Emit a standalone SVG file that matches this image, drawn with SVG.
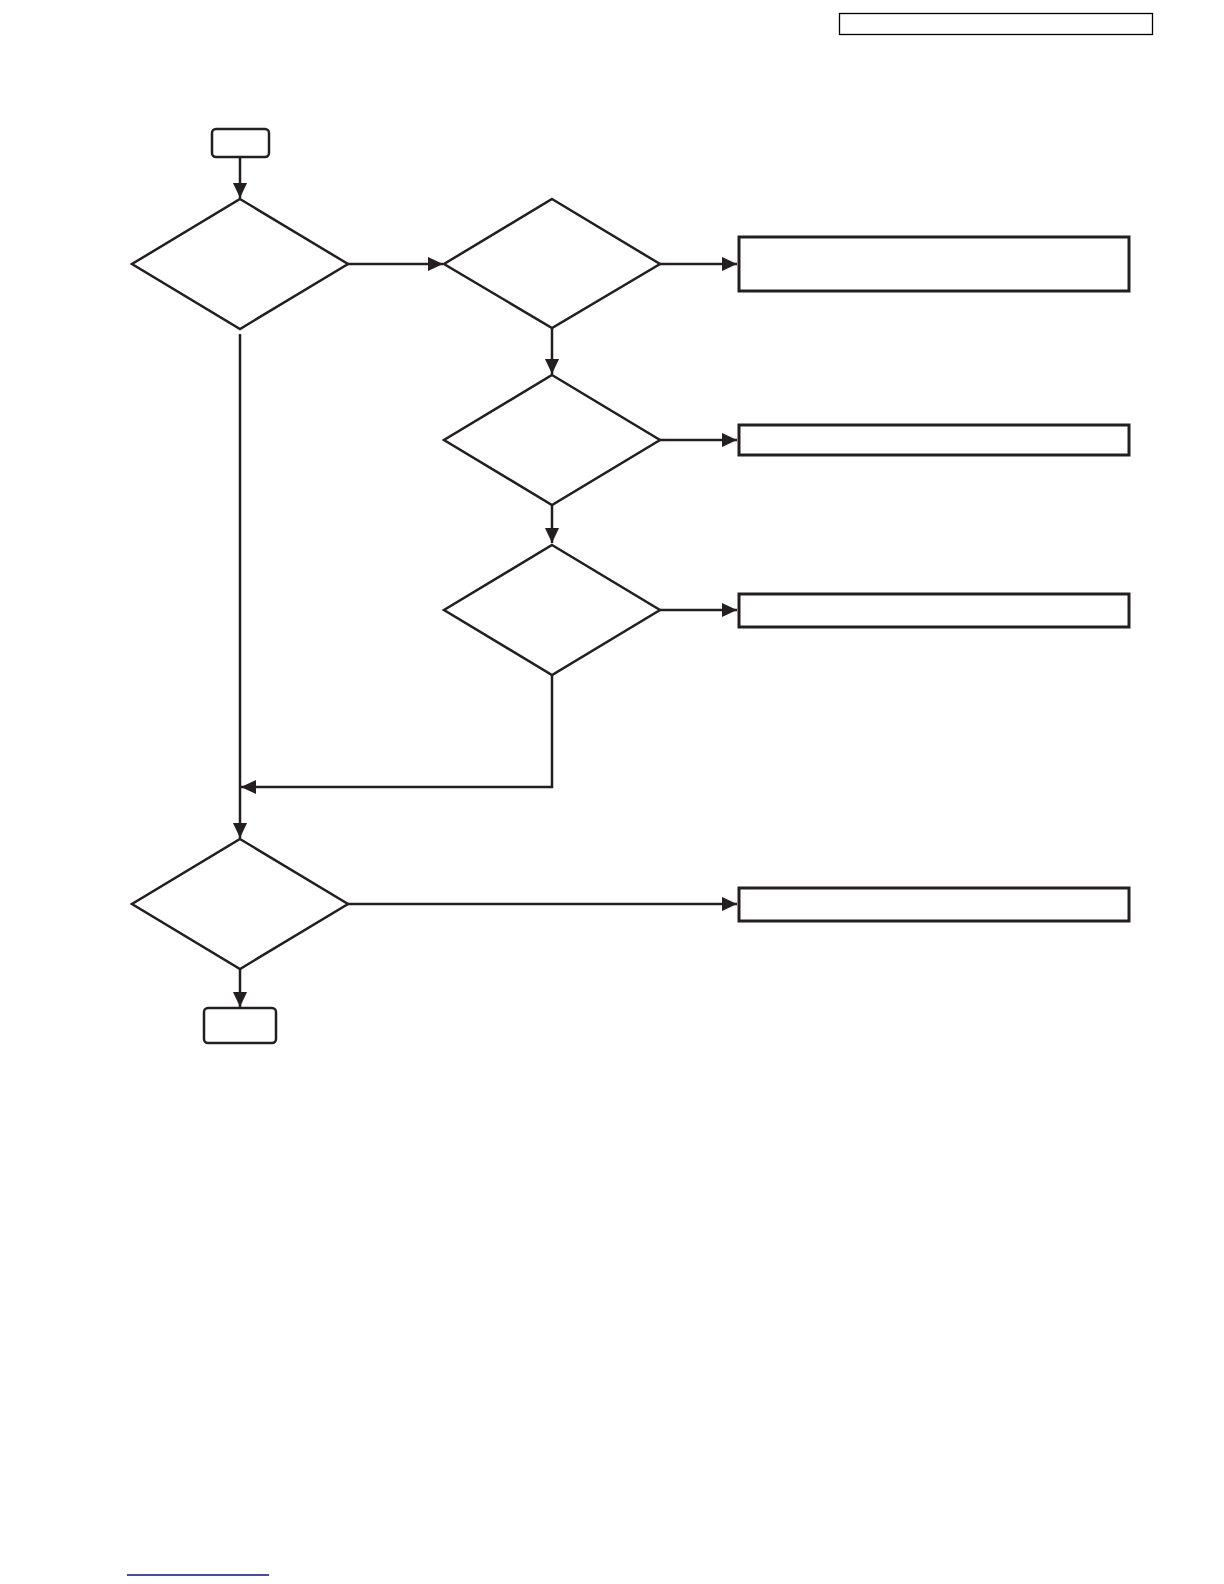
<svg xmlns="http://www.w3.org/2000/svg" width="1224" height="1584" viewBox="0 0 1224 1584">
<style>
.shape{fill:#fff;stroke:#231f20;stroke-width:2.5}
.box{fill:#fff;stroke:#231f20;stroke-width:3}
.conn{fill:none;stroke:#231f20;stroke-width:2.5}
</style>
<defs>
<marker id="arr" markerWidth="15" markerHeight="14" refX="15" refY="7" orient="auto" markerUnits="userSpaceOnUse">
<path d="M0,0 L15,7 L0,14 Z" fill="#231f20"/>
</marker>
</defs>
<rect width="1224" height="1584" fill="#fff"/>
<g id="header"><rect x="839.5" y="13.5" width="313" height="21" fill="#fff" stroke="#000" stroke-width="1.3"/></g>
<g id="connectors">
<line class="conn" x1="240" y1="157" x2="240" y2="198" marker-end="url(#arr)"/>
<line class="conn" x1="348" y1="264" x2="443" y2="264" marker-end="url(#arr)"/>
<line class="conn" x1="660" y1="264" x2="737" y2="264" marker-end="url(#arr)"/>
<line class="conn" x1="552" y1="328" x2="552" y2="374" marker-end="url(#arr)"/>
<line class="conn" x1="660" y1="440" x2="737" y2="440" marker-end="url(#arr)"/>
<line class="conn" x1="552" y1="505" x2="552" y2="543" marker-end="url(#arr)"/>
<line class="conn" x1="660" y1="610" x2="737" y2="610" marker-end="url(#arr)"/>
<polyline class="conn" points="552,675 552,787 241,787" stroke-width="2.8" marker-end="url(#arr)"/>
<line class="conn" x1="240" y1="334" x2="240" y2="838" marker-end="url(#arr)"/>
<line class="conn" x1="348" y1="904" x2="737" y2="904" marker-end="url(#arr)"/>
<line class="conn" x1="240" y1="969" x2="240" y2="1007" marker-end="url(#arr)"/>
</g>
<g id="start"><rect class="shape" x="212" y="129" width="57" height="28" rx="4"/></g>
<g id="d1"><polygon class="shape" points="240,199 348,264 240,329 132,264"/></g>
<g id="d2"><polygon class="shape" points="552,199 660,264 552,328 444,264"/></g>
<g id="d3"><polygon class="shape" points="552,375 660,440 552,505 444,440"/></g>
<g id="d4"><polygon class="shape" points="552,545 660,610 552,675 444,610"/></g>
<g id="d5"><polygon class="shape" points="240,839 348,904 240,969 132,904"/></g>
<g id="end"><rect class="shape" x="204" y="1008" width="72" height="35" rx="4"/></g>
<g id="b1"><rect class="box" x="739" y="237" width="390" height="54"/></g>
<g id="b2"><rect class="box" x="739" y="425" width="390" height="30"/></g>
<g id="b3"><rect class="box" x="739" y="594" width="390" height="33"/></g>
<g id="b4"><rect class="box" x="739" y="888" width="390" height="33"/></g>
<g id="footer"><line x1="127" y1="1575" x2="269" y2="1575" stroke="#10107a" stroke-width="1.6"/></g>
</svg>
